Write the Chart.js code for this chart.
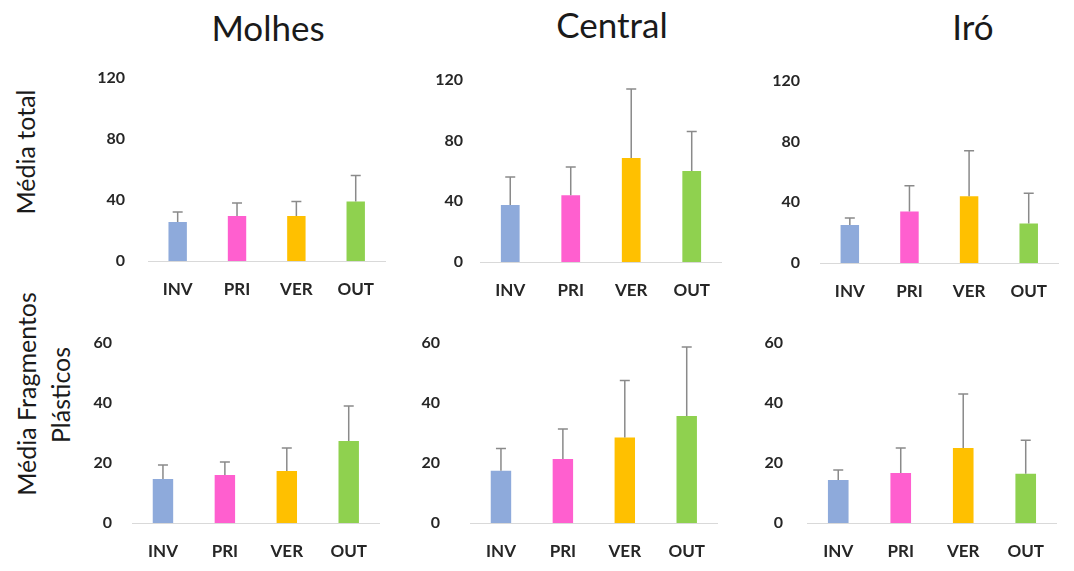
<!DOCTYPE html>
<html>
<head>
<meta charset="utf-8">
<script src="https://cdn.jsdelivr.net/npm/chart.js@4"></script>
<style>
  body { margin: 0; background: #fff; }
  #wrap { position: relative; width: 1074px; height: 571px; overflow: hidden; font-family: Lato, "Open Sans", sans-serif; color: #1a1a1a; }
  .title { position: absolute; font-size: 35px; transform: translateX(-50%); white-space: nowrap; line-height: 1; }
  .ylab { position: absolute; font-size: 25px; white-space: nowrap; line-height: 1; transform: translate(-50%, -50%) rotate(-90deg); }
  canvas { position: absolute; }
</style>
</head>
<body>
<div id="wrap">
  <div class="title" style="left:268px; top:10px;">Molhes</div>
  <div class="title" style="left:612px; top:7px;">Central</div>
  <div class="title" style="left:973px; top:9px;">Iró</div>
  <div class="ylab" style="left:25px; top:152px;">Média total</div>
  <div class="ylab" style="left:26px; top:394px;">Média Fragmentos</div>
  <div class="ylab" style="left:60px; top:395px;">Plásticos</div>
</div>
<script>
// categorias (estações)
const categories = ['INV', 'PRI', 'VER', 'OUT'];
const barColors = ['#8eaadb', '#ff5fcf', '#ffc000', '#8fd14f'];

// Média total
const totalMolhes = [25.6, 29.5, 29.5, 39];
const totalMolhesErr = [6.5, 8.5, 9.5, 17];
const totalCentral = [37.6, 44, 68.6, 60];
const totalCentralErr = [18.5, 18.6, 45.4, 26];
const totalIro = [25, 34, 44, 26];
const totalIroErr = [4.7, 17, 30, 20];

// Média fragmentos plásticos
const fragMolhes = [14.7, 16, 17.3, 27.3];
const fragMolhesErr = [4.6, 4.3, 7.7, 11.7];
const fragCentral = [17.4, 21.3, 28.5, 35.7];
const fragCentralErr = [7.4, 10, 19, 23];
const fragIro = [14.3, 16.7, 25, 16.4];
const fragIroErr = [3.4, 8.3, 18, 11.2];

// eixos
const totalTicks = { max: 120, step: 40 };
const fragTicks = { max: 60, step: 20 };

// barras de erro (só para cima)
const errorBars = {
  id: 'errorBars',
  afterDatasetsDraw(chart) {
    const ctx = chart.ctx;
    const y = chart.scales.y;
    const ds = chart.data.datasets[0];
    const meta = chart.getDatasetMeta(0);
    ctx.save();
    ctx.strokeStyle = '#8a8a8a';
    ctx.lineWidth = 1.5;
    meta.data.forEach((bar, i) => {
      const top = y.getPixelForValue(ds.data[i] + ds.errors[i]);
      ctx.beginPath();
      ctx.moveTo(bar.x, bar.y);
      ctx.lineTo(bar.x, top);
      ctx.moveTo(bar.x - 5, top);
      ctx.lineTo(bar.x + 5, top);
      ctx.stroke();
    });
    ctx.restore();
  }
};

function makePanel(values, errors, ticks, box) {
  const canvas = document.createElement('canvas');
  canvas.width = box.w;
  canvas.height = box.h;
  canvas.style.left = box.x + 'px';
  canvas.style.top = box.y + 'px';
  document.getElementById('wrap').appendChild(canvas);

  new Chart(canvas.getContext('2d'), {
    type: 'bar',
    data: {
      labels: categories,
      datasets: [{
        data: values,
        errors: errors,
        backgroundColor: barColors,
        categoryPercentage: 1,
        barPercentage: box.bar
      }]
    },
    options: {
      responsive: false,
      animation: false,
      layout: { padding: { top: 15, left: 0, right: 0, bottom: 0 } },
      plugins: { legend: { display: false }, tooltip: { enabled: false } },
      scales: {
        x: {
          grid: { display: false, drawTicks: false },
          border: { display: true, color: '#d9d9d9', width: 1 },
          ticks: { color: '#262626', padding: 18, font: { family: 'Lato', size: 17, weight: 'bold' } },
          afterFit: s => { s.height = 40; }
        },
        y: {
          min: 0,
          max: ticks.max,
          grid: { display: false, drawTicks: false },
          border: { display: false },
          ticks: { stepSize: ticks.step, color: '#262626', padding: box.pad, font: { family: 'Lato', size: 16, weight: 'bold' } },
          afterFit: s => { s.width = 60; s.paddingTop = 0; s.paddingBottom = 0; }
        }
      }
    },
    plugins: [errorBars]
  });
}

makePanel(totalMolhes, totalMolhesErr, totalTicks, { x: 88, y: 63, w: 304, h: 238, pad: 23, bar: 0.31 });
makePanel(totalCentral, totalCentralErr, totalTicks, { x: 420, y: 65, w: 308, h: 237, pad: 17, bar: 0.31 });
makePanel(totalIro, totalIroErr, totalTicks, { x: 760, y: 66, w: 305, h: 237, pad: 20, bar: 0.31 });
makePanel(fragMolhes, fragMolhesErr, fragTicks, { x: 72, y: 328, w: 313, h: 235, pad: 20, bar: 0.33 });
makePanel(fragCentral, fragCentralErr, fragTicks, { x: 410, y: 328, w: 313, h: 235, pad: 30, bar: 0.33 });
makePanel(fragIro, fragIroErr, fragTicks, { x: 747, y: 328, w: 315, h: 235, pad: 24, bar: 0.33 });
</script>
</body>
</html>
